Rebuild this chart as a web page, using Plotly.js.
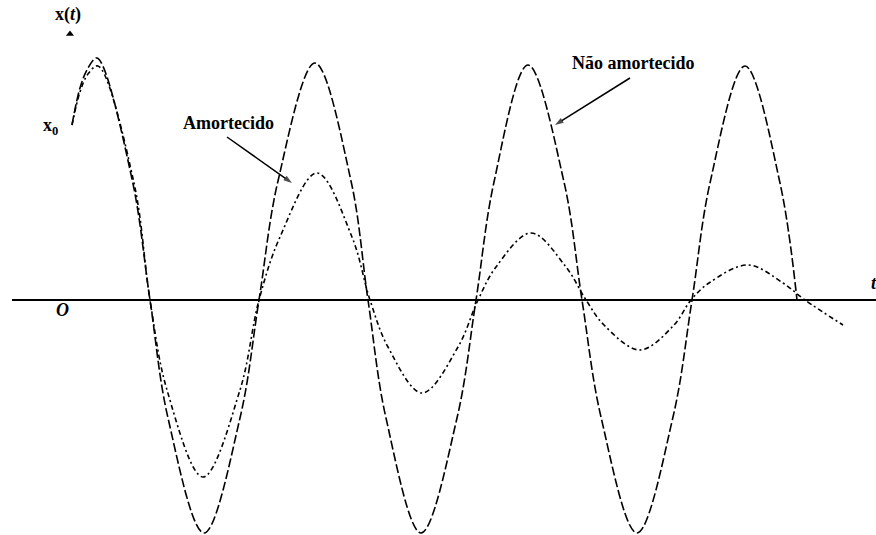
<!DOCTYPE html>
<html>
<head>
<meta charset="utf-8">
<script src="https://cdn.plot.ly/plotly-3.0.1.min.js"></script>
<style>html,body{margin:0;padding:0;background:#fff;}#chart{width:876px;height:535px;}</style>
</head>
<body>
<div id="chart"></div>
<script>
// Undamped oscillation (Não amortecido)
const undampedT = [72,80,88,97,132,150,168,204,240,259,278,315,351,368,386,421,457,476,494,528,564,582,601,637,673,692,710,745,780,797];
const undampedX = [175,212,232,242,121,0,-118,-233,-118,0,119,237,119,0,-118,-233,-118,0,118,235,118,0,-117,-233,-117,0,117,234,117,0];

// Damped oscillation (Amortecido)
const dampedT = [72,80,88,98,134,150,167,203,240,259,280,317,352,370,388,422,458,478,496,531,566,586,604,640,674,691,709,748,783,805,843];
const dampedX = [175,208,226,234,117,0,-90,-177,-90,0,63,127,63,0,-47,-93,-47,0,33,67,33,0,-25,-50,-25,0,17,35,17,0,-25];

const labelDamped = "Amortecido";
const labelUndamped = "Não amortecido";

// pointer arrows (tail -> head)
const arrowDampedT = [227, 292];
const arrowDampedX = [163, 117];
const arrowUndampedT = [630, 555];
const arrowUndampedX = [222, 175];

const fontBold = {family: "Liberation Serif, Times New Roman, serif", size: 18, color: "#000"};

function arrowTrace(xs, ys) {
  return {x: xs, y: ys, mode: "lines+markers",
    line: {color: "#000", width: 1.5},
    marker: {symbol: ["circle", "arrow"], size: [0.1, 9], angleref: "previous", color: "#000", line: {width: 0}},
    hoverinfo: "skip"};
}

const traces = [
  {x: undampedT, y: undampedX, mode: "lines", line: {color: "#000", width: 1.6, dash: "9px,3px", shape: "spline", smoothing: 1}, hoverinfo: "skip"},
  {x: dampedT, y: dampedX, mode: "lines", line: {color: "#000", width: 1.6, dash: "5px,3px,2px,3px", shape: "spline", smoothing: 1}, hoverinfo: "skip"},
  {x: [70], y: [266], mode: "markers", marker: {symbol: "triangle-up", size: 7, color: "#000"}, hoverinfo: "skip"},
  arrowTrace(arrowDampedT, arrowDampedX),
  arrowTrace(arrowUndampedT, arrowUndampedX)
];

const layout = {
  width: 876, height: 535,
  margin: {l: 0, r: 0, t: 0, b: 0},
  paper_bgcolor: "#fff", plot_bgcolor: "#fff",
  showlegend: false,
  xaxis: {range: [0, 876], visible: false, fixedrange: true},
  yaxis: {range: [-235, 300], visible: false, fixedrange: true},
  shapes: [
    {type: "line", xref: "x", yref: "y", x0: 12, x1: 876, y0: 0, y1: 0, line: {color: "#000", width: 2}}
  ],
  annotations: [
    {x: 228, y: 177, xref: "x", yref: "y", text: "<b>" + labelDamped + "</b>", showarrow: false, font: fontBold},
    {x: 633, y: 237, xref: "x", yref: "y", text: "<b>" + labelUndamped + "</b>", showarrow: false, font: fontBold},
    {x: 68, y: 286, xref: "x", yref: "y", text: "<b>x(<i>t</i>)</b>", showarrow: false, font: fontBold},
    {x: 50, y: 174, xref: "x", yref: "y", text: "<b>x<sub>0</sub></b>", showarrow: false, font: fontBold},
    {x: 62, y: -10, xref: "x", yref: "y", text: "<b><i>O</i></b>", showarrow: false, font: fontBold},
    {x: 874, y: 17, xref: "x", yref: "y", text: "<b><i>t</i></b>", showarrow: false, font: fontBold}
  ]
};

Plotly.newPlot("chart", traces, layout, {staticPlot: true, displayModeBar: false});
</script>
</body>
</html>
